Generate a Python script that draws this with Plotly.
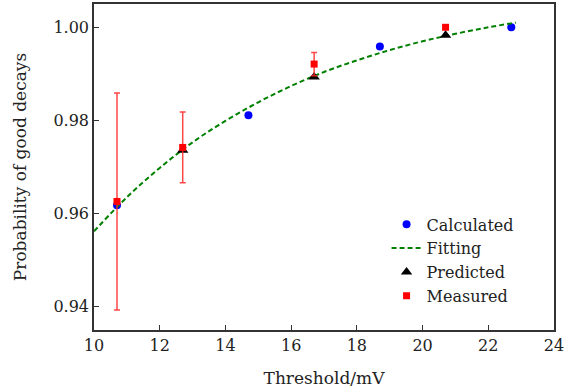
import plotly.graph_objects as go

# Data
calc_x = [10.7, 14.7, 18.7, 22.7]
calc_y = [0.9618, 0.9811, 0.9959, 1.0000]

fit_x = [10, 11, 12, 13, 14, 15, 16, 17, 18, 19, 20, 21, 22, 22.84]
fit_y = [0.9562, 0.9635, 0.9698, 0.9753, 0.9799, 0.9839, 0.9874, 0.9904,
         0.9929, 0.9951, 0.9970, 0.9986, 1.0000, 1.0010]

pred_x = [12.7, 16.7, 20.7]
pred_y = [0.9736, 0.9893, 0.9983]

meas_x = [10.7, 12.7, 16.7, 20.7]
meas_y = [0.9626, 0.9742, 0.9921, 1.0000]
meas_err = [0.0233, 0.0076, 0.0025, 0.0]

FONT = "DejaVu Serif"
FS = 16
TFS = 17

fig = go.Figure()
fig.add_trace(go.Scatter(x=calc_x, y=calc_y, mode="markers", name="Calculated",
                         marker=dict(symbol="circle", size=8, color="blue")))
fig.add_trace(go.Scatter(x=fit_x, y=fit_y, mode="lines", name="Fitting",
                         line=dict(color="green", width=2, dash="5px,3px", shape="spline")))
fig.add_trace(go.Scatter(x=pred_x, y=pred_y, mode="markers", name="Predicted",
                         marker=dict(symbol="triangle-up", size=10, color="black")))
fig.add_trace(go.Scatter(x=meas_x, y=meas_y, mode="markers", name="Measured",
                         marker=dict(symbol="square", size=7, color="red"),
                         error_y=dict(type="data", array=meas_err, visible=True,
                                      color="rgba(255,40,40,0.85)", thickness=1.5, width=3)))

axis_common = dict(showgrid=False, zeroline=False, showline=True, mirror=True,
                   linecolor="#333333", linewidth=1.5, ticks="inside", ticklen=5,
                   tickwidth=1.2, tickcolor="#333333", automargin=False,
                   tickfont=dict(family=FONT, size=FS, color="#222222"))

fig.update_layout(
    width=573, height=392,
    margin=dict(l=94, r=19, t=4, b=62),
    plot_bgcolor="white", paper_bgcolor="white",
    font=dict(family=FONT, size=FS, color="#222222"),
    xaxis=dict(range=[10, 24], tickvals=[10, 12, 14, 16, 18, 20, 22, 24],
               title=dict(text="Threshold/mV", standoff=18,
                          font=dict(family=FONT, size=TFS)), **axis_common),
    yaxis=dict(range=[0.935, 1.005], tickvals=[0.94, 0.96, 0.98, 1.00],
               ticktext=["0.94", "0.96", "0.98", "1.00"],
               title=dict(text="Probability of good decays", standoff=22,
                          font=dict(family=FONT, size=TFS)), **axis_common),
    legend=dict(x=0.636, y=0.376, xanchor="left", yanchor="top",
                bgcolor="rgba(0,0,0,0)", font=dict(family=FONT, size=FS),
                tracegroupgap=0),
    showlegend=True,
)

fig.write_html("out.html", config={"displayModeBar": False},
               post_script="document.body.style.margin='0';document.body.style.overflow='hidden';")
